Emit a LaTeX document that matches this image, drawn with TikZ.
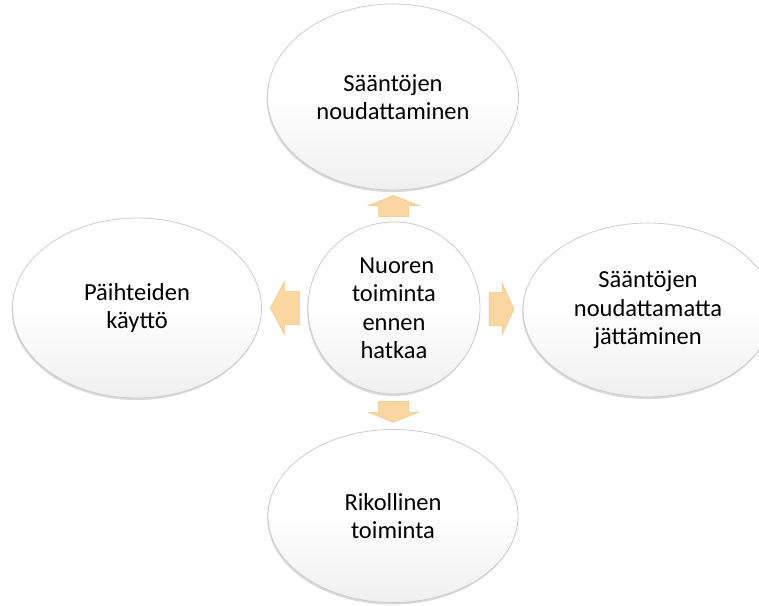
\documentclass[tikz,border=0pt]{standalone}
\usepackage{fontspec}
\setmainfont{Carlito}
\usetikzlibrary{shapes.geometric,shadows,calc}
\definecolor{arrowfill}{RGB}{250,214,160}
\definecolor{arrowdraw}{RGB}{238,196,135}
\tikzset{
  bubble/.style={ellipse, draw=black!20, line width=0.8pt,
    top color=white, bottom color=black!6, middle color=white,
    drop shadow={shadow xshift=-0.8pt, shadow yshift=-2pt, opacity=0.25, fill=black!60},
    align=center, inner sep=0pt, font=\fontsize{24.5}{28.5}\selectfont},
  blockarrow/.style={fill=arrowfill, draw=arrowdraw, line width=0.5pt}
}
\begin{document}
\begin{tikzpicture}[x=1pt,y=-1pt]
\useasboundingbox (0,0) rectangle (759,605);
\node[bubble, minimum width=251pt, minimum height=186pt] (top) at (393,97) {Sääntöjen\\noudattaminen};
\node[bubble, minimum width=249pt, minimum height=180pt] (left) at (137,308) {Päihteiden\\käyttö};
\node[bubble, minimum width=250pt, minimum height=174pt] (right) at (648,310) {Sääntöjen\\noudattamatta\\jättäminen};
\node[bubble, minimum width=250pt, minimum height=173pt] (bottom) at (393,516) {Rikollinen\\toiminta};
\node[bubble, circle, minimum size=172pt] (c) at (394,308) {\ Nuoren\\toiminta\\ennen\\hatkaa};
% block arrows
\coordinate (au) at ($(c.north)!0.5!(top.south)$);
\coordinate (ad) at ($(c.south)!0.5!(bottom.north)$);
\coordinate (al) at ($(c.west)!0.5!(left.east)$);
\coordinate (ar) at ($(c.east)!0.5!(right.west)$);
\draw[blockarrow, shift={(au)}, rotate=90] (-10.5,-15) -- (0.5,-15) -- (0.5,-25) -- (10.5,0) -- (0.5,25) -- (0.5,15) -- (-10.5,15) -- cycle;
\draw[blockarrow, shift={(ad)}, rotate=-90] (-10.5,-15) -- (0.5,-15) -- (0.5,-25) -- (10.5,0) -- (0.5,25) -- (0.5,15) -- (-10.5,15) -- cycle;
\draw[blockarrow, shift={(ar)}, rotate=0] (-12.5,-16.5) -- (0.5,-16.5) -- (0.5,-26) -- (12.5,0) -- (0.5,26) -- (0.5,16.5) -- (-12.5,16.5) -- cycle;
\draw[blockarrow, shift={(al)}, rotate=180] (-14.5,-16.5) -- (0.5,-16.5) -- (0.5,-26) -- (14.5,0) -- (0.5,26) -- (0.5,16.5) -- (-14.5,16.5) -- cycle;
\end{tikzpicture}
\end{document}
